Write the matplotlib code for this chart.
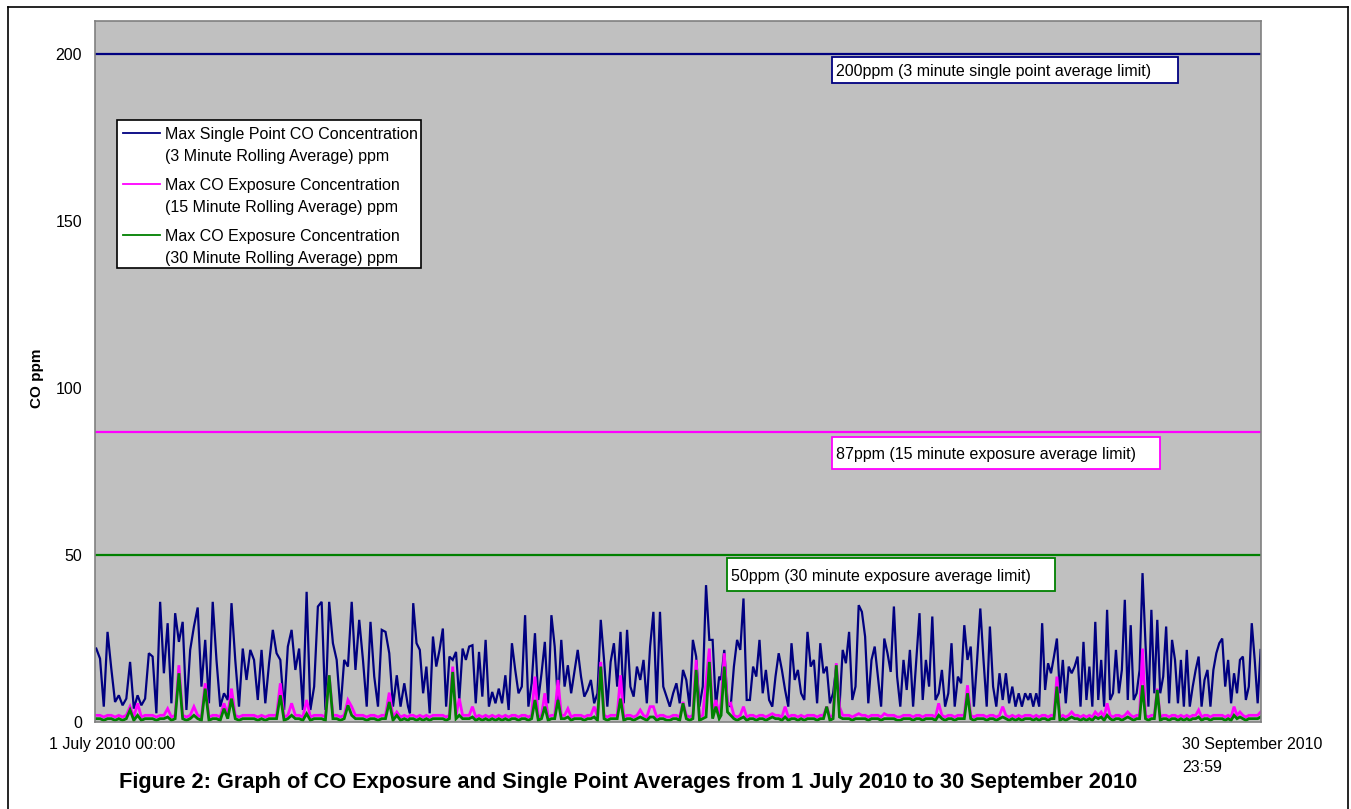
import numpy as np
import matplotlib
matplotlib.use('Agg')
import matplotlib.pyplot as plt
from matplotlib.patches import Rectangle
from matplotlib.lines import Line2D

plt.rcParams['font.family'] = ['Liberation Sans', 'DejaVu Sans']

W, H = 1351, 809

# record split in four stretches, (start, end) in days from 1 July 2010 00:00
seg_days = [(0.1, 24.7), (24.85, 49.25), (49.4, 73.64), (73.8, 91.97)]

# max single point CO, 3 minute rolling average (ppm)
co3_a = [22, 19, 4.6, 27, 16, 6, 8, 5, 7, 18,
         4, 8, 5, 7, 20.6, 19.6, 2.6, 36, 14.6, 29.6,
         5.6, 32.6, 24, 30, 3.6, 21.6, 28.6, 34.3, 10.6, 24.6,
         5.6, 36, 18.6, 4.6, 8.6, 6.6, 35.6, 18.6, 4.6, 22,
         12.6, 21.6, 18.6, 6.6, 21.6, 5.6, 17.6, 27.6, 20.6, 18.6,
         3.6, 22.6, 27.6, 15.6, 22, 3.6, 39, 3.6, 10.6, 34.6,
         36, 3.6, 36, 23.6, 18.6, 3.6, 18.6, 16.6, 36, 15.6,
         30.6, 18.6, 4.6, 30, 13.6, 4.6, 27.6, 27, 20.6, 4.6,
         14, 4.6, 11.6, 4.6]
co3_b = [2.6, 35.6, 23.6, 21.6, 8.6, 16.6, 2.6, 25.6, 16.6, 21.6,
         28, 4.6, 19.6, 18.6, 21, 6.6, 22, 18.6, 22.6, 23,
         5.6, 21, 7.6, 24.6, 4.6, 9, 5.6, 10, 5.6, 14,
         3.6, 23.6, 15.6, 8.6, 10.6, 32, 4.6, 11.6, 26.6, 6.6,
         14.6, 24, 5.6, 32, 22.6, 5.6, 24.6, 10.6, 17, 8.6,
         15, 21.6, 13.6, 7.6, 9.6, 12.6, 5.6, 8.6, 30.6, 18.6,
         4.6, 18, 23.6, 10.6, 27, 5.6, 27.6, 10.6, 7.6, 16.6,
         12.6, 18.6, 5.6, 22.6, 33, 5.6, 33, 10.6, 7.6, 4.6,
         8.6, 11.6, 5.6, 15.6, 12.6, 4.6, 24.6, 19.6, 4.6, 10.6,
         41, 24.6, 24.6, 4.6, 13.6]
co3_c = [12.6, 21.6, 5.6, 4.6, 16.6, 24.6, 21.6, 37, 6.6, 6.6,
         16.6, 13.6, 24.6, 8.6, 15.6, 6.6, 4.6, 13.6, 20.6, 15.6,
         9.6, 4.6, 23.6, 12.6, 15.6, 8.6, 6.6, 27, 16.6, 18.6,
         5.6, 23.6, 14.6, 16.6, 5.6, 8.6, 16.6, 4.6, 21.6, 17.6,
         27, 6.6, 10.6, 35, 33, 25.6, 5.6, 18.6, 22.6, 13.6,
         4.6, 25, 20.6, 15, 34.6, 13.6, 4.6, 18.6, 9.6, 21.6,
         4.6, 18.6, 32.6, 6.6, 18.6, 10.6, 31.6, 6.6, 8.6, 15.6,
         4.6, 8.6, 23.6, 4.6, 13.6, 11.6, 29, 18.6, 22.6, 4.6,
         18.6, 34, 18.6, 4.6, 28.6, 10.6, 4.6, 14.6, 6.6, 14.6,
         5.6, 10.6, 4.6, 8.6, 4.6, 8.6, 6.6]
co3_d = [8.6, 4.6, 8.6, 4.6, 29.6, 9.6, 17.6, 14.6, 19.6, 25,
         8.6, 18.6, 5.6, 16.6, 14.6, 16.6, 19.6, 4.6, 24, 6.6,
         16.6, 4.6, 30, 6.6, 18.6, 4.6, 33.6, 6.6, 8.6, 21.6,
         8.6, 15.6, 36.6, 6.6, 29, 6.6, 8.6, 15.6, 44.6, 23.6,
         4.6, 33.6, 8.6, 30.6, 8.6, 13.6, 28.6, 5.6, 24.6, 18.6,
         5.6, 18.6, 4.6, 21.6, 4.6, 10.6, 15.6, 19.6, 4.6, 12.6,
         15.6, 4.6, 15.6, 20.6, 23.6, 25, 10.6, 18.6, 5.6, 14.6,
         8.6, 18.6, 19.6, 6.6, 10.6, 29.6, 18.6, 5.6, 21.6]

# max CO exposure, 15 minute rolling average (ppm)
co15_a = [2, 2, 1.5, 2, 2, 1.5, 2, 1.5, 2, 4.6,
          1.5, 5.6, 1.5, 2, 2, 2, 1.5, 2, 2, 4,
          1.5, 2, 17, 2, 1.5, 2, 4.6, 2, 1.5, 11.6,
          1.5, 2, 2, 1.5, 5.6, 2, 10, 2, 1.5, 2,
          2, 2, 2, 1.5, 2, 1.5, 2, 2, 2, 11.6,
          1.5, 2, 5.6, 2, 2, 1.5, 6.6, 1.5, 2, 2,
          2, 1.5, 14, 2, 2, 1.5, 2, 6.6, 4.6, 2,
          2, 2, 1.5, 2, 2, 1.5, 2, 2, 8.8, 1.5,
          3, 1.5, 2, 1.5]
co15_b = [2, 2, 1.5, 2, 1.5, 2, 1.5, 2, 2, 2,
          2, 1.5, 2, 16.6, 2, 7, 2, 2, 2, 4.6,
          1.5, 2, 1.5, 2, 1.5, 2, 1.5, 2, 1.5, 2,
          1.5, 2, 2, 1.5, 2, 2, 1.5, 2, 13.6, 1.5,
          2, 8.6, 1.5, 2, 2, 12.6, 2, 2, 4, 1.5,
          2, 2, 2, 1.5, 2, 2, 4.6, 1.5, 18, 2,
          1.5, 2, 2, 2, 14, 1.5, 2, 2, 1.5, 2,
          3.6, 2, 1.5, 4.6, 4.6, 1.5, 2, 2, 1.5, 1.5,
          2, 2, 1.5, 6, 2, 1.5, 2, 18.6, 1.5, 2,
          12, 22, 2, 6.6, 2]
co15_c = [6, 20.6, 5, 5.6, 2, 1.5, 2, 4.6, 1.5, 2,
          2, 1.5, 2, 2, 1.5, 2, 2.5, 2, 2, 1.5,
          4.6, 1.5, 2, 2, 1.5, 2, 1.5, 2, 2, 2,
          1.5, 2, 2, 4.6, 1.5, 2, 17.6, 4.6, 2, 2,
          2, 1.5, 2, 2.5, 2, 2, 1.5, 2, 2, 2,
          1.5, 2.5, 2, 2, 2, 1.5, 1.5, 2, 2, 2,
          1.5, 2, 2, 1.5, 2, 2, 2, 1.5, 5.6, 2,
          1.5, 2, 2, 1.5, 2, 2, 2, 11, 2, 1.5,
          2, 2, 2, 1.5, 2, 2, 1.5, 2, 4.6, 2,
          1.5, 2, 1.5, 2, 1.5, 2, 2]
co15_d = [2, 1.5, 2, 1.5, 2, 2, 1.5, 2, 2, 13.6,
          1.5, 2, 1.5, 2, 3, 2, 2, 1.5, 2, 1.5,
          2, 1.5, 3, 2, 3, 1.5, 5.6, 2, 1.5, 2,
          2, 1.5, 2, 3, 2, 1.5, 2, 2, 22, 2,
          1.5, 2, 2, 10, 1.5, 2, 2, 1.5, 2, 2,
          1.5, 2, 1.5, 2, 1.5, 2, 2, 3.6, 1.5, 2,
          2, 1.5, 2, 2, 2, 2, 1.5, 2, 1.5, 4.6,
          2, 3, 2, 1.5, 2, 2, 2, 2, 3]

# max CO exposure, 30 minute rolling average (ppm)
co30_a = [1, 1, 0.5, 1, 1, 0.5, 1, 0.5, 1, 3.6,
          0.5, 2, 0.5, 1, 1, 1, 0.5, 1, 1, 1.5,
          0.5, 1, 14.6, 1, 0.5, 1, 2, 1, 0.5, 10,
          0.5, 1, 1, 0.5, 4, 1, 7, 1, 0.5, 1,
          1, 1, 1, 0.5, 1, 0.5, 1, 1, 1, 8,
          0.5, 1, 2, 1, 1, 0.5, 2.5, 0.5, 1, 1,
          1, 0.5, 14, 1, 1, 0.5, 1, 5, 2, 1,
          1, 1, 0.5, 1, 1, 0.5, 1, 1, 6, 0.5,
          2, 0.5, 1, 0.5]
co30_b = [1, 1, 0.5, 1, 0.5, 1, 0.5, 1, 1, 1,
          1, 0.5, 1, 15, 1, 2, 1, 1, 1, 1.5,
          0.5, 1, 0.5, 1, 0.5, 1, 0.5, 1, 0.5, 1,
          0.5, 1, 1, 0.5, 1, 1, 0.5, 1, 6.6, 0.5,
          1, 4.6, 0.5, 1, 1, 6.6, 1, 1, 1.5, 0.5,
          1, 1, 1, 0.5, 1, 1, 1.5, 0.5, 16.6, 1,
          0.5, 1, 1, 1, 7, 0.5, 1, 1, 0.5, 1,
          1.5, 1, 0.5, 1.5, 1.5, 0.5, 1, 1, 0.5, 0.5,
          1, 1, 0.5, 5.6, 1, 0.5, 1, 15.6, 0.5, 1,
          1.5, 18, 1, 4.6, 1]
co30_c = [2, 16.6, 3, 2, 1, 0.5, 1, 1.5, 0.5, 1,
          1, 0.5, 1, 1, 0.5, 1, 1.5, 1, 1, 0.5,
          1.5, 0.5, 1, 1, 0.5, 1, 0.5, 1, 1, 1,
          0.5, 1, 1, 4.6, 0.5, 1, 17, 1.5, 1, 1,
          1, 0.5, 1, 1, 1, 1, 0.5, 1, 1, 1,
          0.5, 1, 1, 1, 1, 0.5, 0.5, 1, 1, 1,
          0.5, 1, 1, 0.5, 1, 1, 1, 0.5, 2, 1,
          0.5, 1, 1, 0.5, 1, 1, 1, 8.6, 1, 0.5,
          1, 1, 1, 0.5, 1, 1, 0.5, 1, 1.5, 1,
          0.5, 1, 0.5, 1, 0.5, 1, 1]
co30_d = [1, 0.5, 1, 0.5, 1, 1, 0.5, 1, 1, 10.6,
          0.5, 1, 0.5, 1, 1.5, 1, 1, 0.5, 1, 0.5,
          1, 0.5, 1.5, 1, 1.5, 0.5, 2, 1, 0.5, 1,
          1, 0.5, 1, 1.5, 1, 0.5, 1, 1, 11, 1,
          0.5, 1, 1, 9.6, 0.5, 1, 1, 0.5, 1, 1,
          0.5, 1, 0.5, 1, 0.5, 1, 1, 1.5, 0.5, 1,
          1, 0.5, 1, 1, 1, 1, 0.5, 1, 0.5, 2,
          1, 1.5, 1, 0.5, 1, 1, 1, 1, 1.5]

series_labels = ['Max Single Point CO Concentration\n(3 Minute Rolling Average) ppm',
                 'Max CO Exposure Concentration\n(15 Minute Rolling Average) ppm',
                 'Max CO Exposure Concentration\n(30 Minute Rolling Average) ppm']
series_colors = ['#000080', '#FF00FF', '#008000']

limit_values = [200, 87, 50]
limit_labels = ['200ppm (3 minute single point average limit)',
                '87ppm (15 minute exposure average limit)',
                '50ppm (30 minute exposure average limit)']

y_ticks = [0, 50, 100, 150, 200]
x_labels = ['1 July 2010 00:00', '30 September 2010\n23:59']
title = 'Figure 2: Graph of CO Exposure and Single Point Averages from 1 July 2010 to 30 September 2010'


def join(segs):
    t, v = [], []
    for (a, b), vals in zip(seg_days, segs):
        t.append(np.linspace(a, b, len(vals)))
        v.append(np.asarray(vals, dtype=float))
    return np.concatenate(t), np.concatenate(v)


series = [join([co3_a, co3_b, co3_c, co3_d]),
          join([co15_a, co15_b, co15_c, co15_d]),
          join([co30_a, co30_b, co30_c, co30_d])]


def fx(x):
    return x / W


def fy(y):
    return 1 - y / H


fig = plt.figure(figsize=(W / 100, H / 100), dpi=100)
ax = fig.add_axes([fx(95), fy(722), (1261 - 95) / W, (722 - 21) / H])
ax.set_facecolor('#C0C0C0')
for s in ax.spines.values():
    s.set_color('#808080')
    s.set_linewidth(1.2)

for (t, v), c, lw in zip(series, series_colors, [1.6, 2.0, 2.0]):
    ax.plot(t, v, color=c, lw=lw, solid_joinstyle='miter')

for v, c in zip(limit_values, series_colors):
    ax.axhline(v, color=c, lw=1.6)

ax.set_xlim(0, 92)
ax.set_ylim(0, 210)
ax.set_yticks(y_ticks)
ax.set_xticks([])
ax.tick_params(axis='y', length=0, pad=9.4, labelsize=11.5)

# limit label boxes (pixel boxes from the original layout)
boxes = [(832, 57, 1178, 83), (832, 437, 1160, 469), (727, 558, 1055, 591)]
for (x0, y0, x1, y1), txt, c in zip(boxes, limit_labels, series_colors):
    fig.add_artist(Rectangle((fx(x0), fy(y1)), (x1 - x0) / W, (y1 - y0) / H,
                             transform=fig.transFigure, fc='white', ec=c, lw=1.3))
    fig.text(fx(x0 + 4), fy((y0 + y1) / 2), txt, fontsize=11.5,
             ha='left', va='center_baseline')

# legend drawn by hand so the line sits on the first text line
fig.add_artist(Rectangle((fx(117), fy(268)), (421 - 117) / W, (268 - 120) / H,
                         transform=fig.transFigure, fc='white', ec='black', lw=1.2))
for i, (lab, c) in enumerate(zip(series_labels, series_colors)):
    y = 133 + i * 51
    fig.add_artist(Line2D([fx(123), fx(160)], [fy(y), fy(y)], color=c, lw=1.3,
                          transform=fig.transFigure))
    for j, line in enumerate(lab.split('\n')):
        fig.text(fx(165), fy(y + j * 21.7), line, fontsize=11.5,
                 ha='left', va='center_baseline')

fig.text(fx(49), fy(743), x_labels[0], fontsize=11.5, ha='left', va='center_baseline')
for j, line in enumerate(x_labels[1].split('\n')):
    fig.text(fx(1182), fy(743 + j * 23.3), line, fontsize=11.5,
             ha='left', va='center_baseline')

fig.text(fx(37), fy(378), 'CO ppm', rotation=90, fontsize=11, weight='bold',
         ha='center', va='center')
fig.text(fx(628), fy(780), title, fontsize=15.7, weight='bold',
         ha='center', va='center_baseline')

# outer frame of the figure
for xs, ys in [([7.5, 7.5], [812, 6.5]), ([7.5, 1347.5], [6.5, 6.5]),
               ([1347.5, 1347.5], [6.5, 812])]:
    fig.add_artist(Line2D([fx(x) for x in xs], [fy(y) for y in ys],
                          color='black', lw=1.2, transform=fig.transFigure))

fig.savefig('out.png', dpi=100)
